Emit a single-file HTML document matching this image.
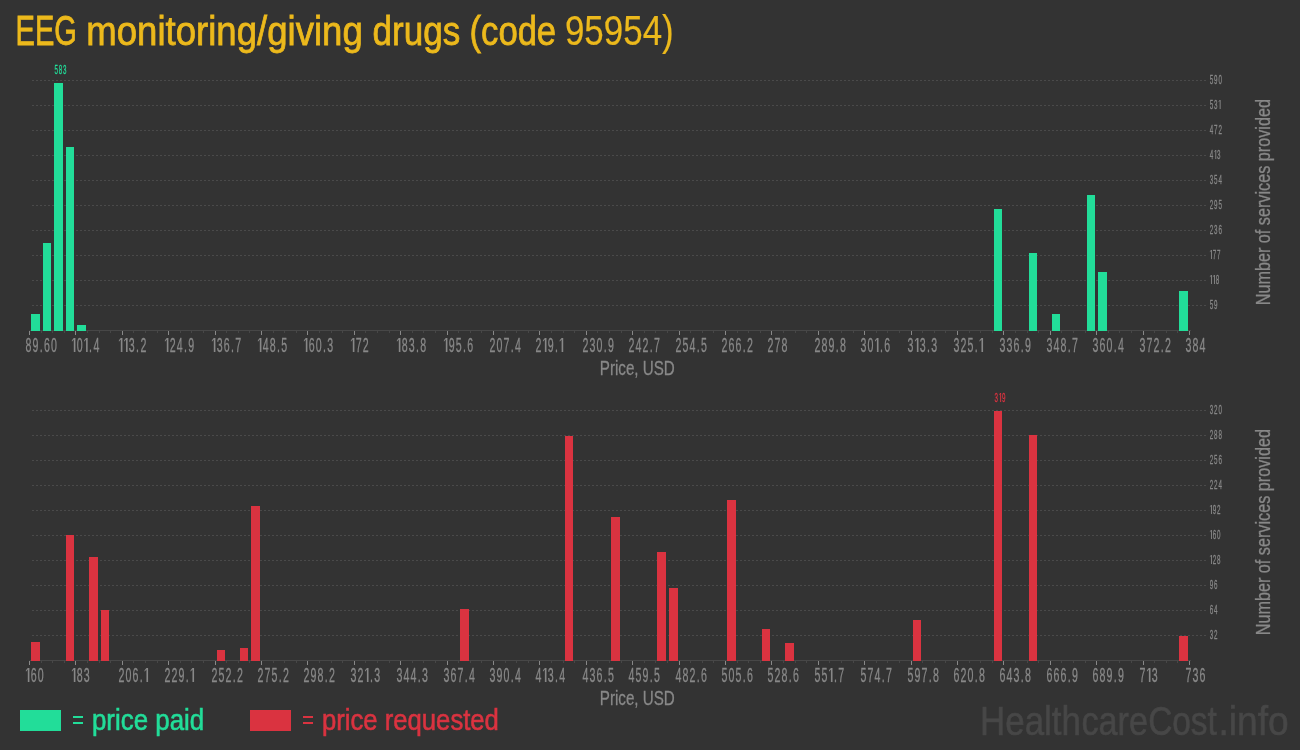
<!DOCTYPE html>
<html><head><meta charset="utf-8"><style>
html,body{margin:0;padding:0;background:#333333;}
body{width:1300px;height:750px;overflow:hidden;}
svg{display:block;will-change:transform;}
text{font-family:"Liberation Sans", sans-serif;}
</style></head><body>
<svg width="1300" height="750" viewBox="0 0 1300 750">
<rect width="1300" height="750" fill="#333333"/>
<text transform="translate(15.61 45) scale(0.6840 1)" font-size="42.5" fill="#ecb91c" stroke="#ecb91c" stroke-width="0.8">EEG</text>
<text transform="translate(86.23 45) scale(0.8924 1)" font-size="41" fill="#ecb91c" stroke="#ecb91c" stroke-width="0.8">monitoring/giving</text>
<text transform="translate(372.56 45) scale(0.8551 1)" font-size="41" fill="#ecb91c" stroke="#ecb91c" stroke-width="0.8">drugs</text>
<text transform="translate(469.55 45) scale(0.8342 1)" font-size="41.5" fill="#ecb91c" stroke="#ecb91c" stroke-width="0.8">(code</text>
<text transform="translate(564.93 45) scale(0.8320 1)" font-size="42" fill="#ecb91c" stroke="#ecb91c" stroke-width="0.2">95954)</text>
<text transform="translate(91.97 729.9) scale(0.8774 1)" font-size="29.5" fill="#22dd99" stroke="#22dd99" stroke-width="0.6">price paid</text>
<text transform="translate(321.98 729.9) scale(0.8705 1)" font-size="29.5" fill="#da3340" stroke="#da3340" stroke-width="0.6">price requested</text>
<text transform="translate(980.09 734.9) scale(0.8404 1)" font-size="41.5" fill="#474747" stroke="#474747" stroke-width="0.6">Health</text>
<text transform="translate(1081.51 734.9) scale(0.8241 1)" font-size="41.5" fill="#474747" stroke="#474747" stroke-width="0.6">care</text>
<text transform="translate(1148.14 734.9) scale(0.8058 1)" font-size="41.5" fill="#474747" stroke="#474747" stroke-width="0.6">Cost</text>
<text transform="translate(1218.52 734.9) scale(0.8948 1)" font-size="41.5" fill="#474747" stroke="#474747" stroke-width="0.6">.info</text>
<text transform="translate(599.78 374.9) scale(0.7671 1)" font-size="19.8" fill="#888888" stroke="#888888" stroke-width="0.3">Price, USD</text>
<text transform="translate(599.78 704.9) scale(0.7671 1)" font-size="19.8" fill="#888888" stroke="#888888" stroke-width="0.3">Price, USD</text>
<line x1="32" y1="80.5" x2="1206" y2="80.5" stroke="#4a4a4a" stroke-width="1" stroke-dasharray="2 2"/>
<line x1="32" y1="105.5" x2="1206" y2="105.5" stroke="#4a4a4a" stroke-width="1" stroke-dasharray="2 2"/>
<line x1="32" y1="130.5" x2="1206" y2="130.5" stroke="#4a4a4a" stroke-width="1" stroke-dasharray="2 2"/>
<line x1="32" y1="155.5" x2="1206" y2="155.5" stroke="#4a4a4a" stroke-width="1" stroke-dasharray="2 2"/>
<line x1="32" y1="180.5" x2="1206" y2="180.5" stroke="#4a4a4a" stroke-width="1" stroke-dasharray="2 2"/>
<line x1="32" y1="205.5" x2="1206" y2="205.5" stroke="#4a4a4a" stroke-width="1" stroke-dasharray="2 2"/>
<line x1="32" y1="230.5" x2="1206" y2="230.5" stroke="#4a4a4a" stroke-width="1" stroke-dasharray="2 2"/>
<line x1="32" y1="255.5" x2="1206" y2="255.5" stroke="#4a4a4a" stroke-width="1" stroke-dasharray="2 2"/>
<line x1="32" y1="280.5" x2="1206" y2="280.5" stroke="#4a4a4a" stroke-width="1" stroke-dasharray="2 2"/>
<line x1="32" y1="305.5" x2="1206" y2="305.5" stroke="#4a4a4a" stroke-width="1" stroke-dasharray="2 2"/>
<line x1="29.5" y1="330.5" x2="1191" y2="330.5" stroke="#474747" stroke-width="1"/>
<line x1="29.5" y1="331" x2="29.5" y2="335" stroke="#888888" stroke-width="1"/>
<line x1="41.5" y1="331" x2="41.5" y2="333" stroke="#474747" stroke-width="1"/>
<line x1="52.5" y1="331" x2="52.5" y2="333" stroke="#474747" stroke-width="1"/>
<line x1="64.5" y1="331" x2="64.5" y2="333" stroke="#474747" stroke-width="1"/>
<line x1="75.5" y1="331" x2="75.5" y2="335" stroke="#888888" stroke-width="1"/>
<line x1="87.5" y1="331" x2="87.5" y2="333" stroke="#474747" stroke-width="1"/>
<line x1="99.5" y1="331" x2="99.5" y2="333" stroke="#474747" stroke-width="1"/>
<line x1="110.5" y1="331" x2="110.5" y2="333" stroke="#474747" stroke-width="1"/>
<line x1="122.5" y1="331" x2="122.5" y2="335" stroke="#888888" stroke-width="1"/>
<line x1="133.5" y1="331" x2="133.5" y2="333" stroke="#474747" stroke-width="1"/>
<line x1="145.5" y1="331" x2="145.5" y2="333" stroke="#474747" stroke-width="1"/>
<line x1="157.5" y1="331" x2="157.5" y2="333" stroke="#474747" stroke-width="1"/>
<line x1="168.5" y1="331" x2="168.5" y2="335" stroke="#888888" stroke-width="1"/>
<line x1="180.5" y1="331" x2="180.5" y2="333" stroke="#474747" stroke-width="1"/>
<line x1="191.5" y1="331" x2="191.5" y2="333" stroke="#474747" stroke-width="1"/>
<line x1="203.5" y1="331" x2="203.5" y2="333" stroke="#474747" stroke-width="1"/>
<line x1="215.5" y1="331" x2="215.5" y2="335" stroke="#888888" stroke-width="1"/>
<line x1="226.5" y1="331" x2="226.5" y2="333" stroke="#474747" stroke-width="1"/>
<line x1="238.5" y1="331" x2="238.5" y2="333" stroke="#474747" stroke-width="1"/>
<line x1="249.5" y1="331" x2="249.5" y2="333" stroke="#474747" stroke-width="1"/>
<line x1="261.5" y1="331" x2="261.5" y2="335" stroke="#888888" stroke-width="1"/>
<line x1="273.5" y1="331" x2="273.5" y2="333" stroke="#474747" stroke-width="1"/>
<line x1="284.5" y1="331" x2="284.5" y2="333" stroke="#474747" stroke-width="1"/>
<line x1="296.5" y1="331" x2="296.5" y2="333" stroke="#474747" stroke-width="1"/>
<line x1="307.5" y1="331" x2="307.5" y2="335" stroke="#888888" stroke-width="1"/>
<line x1="319.5" y1="331" x2="319.5" y2="333" stroke="#474747" stroke-width="1"/>
<line x1="331.5" y1="331" x2="331.5" y2="333" stroke="#474747" stroke-width="1"/>
<line x1="342.5" y1="331" x2="342.5" y2="333" stroke="#474747" stroke-width="1"/>
<line x1="354.5" y1="331" x2="354.5" y2="335" stroke="#888888" stroke-width="1"/>
<line x1="365.5" y1="331" x2="365.5" y2="333" stroke="#474747" stroke-width="1"/>
<line x1="377.5" y1="331" x2="377.5" y2="333" stroke="#474747" stroke-width="1"/>
<line x1="389.5" y1="331" x2="389.5" y2="333" stroke="#474747" stroke-width="1"/>
<line x1="400.5" y1="331" x2="400.5" y2="335" stroke="#888888" stroke-width="1"/>
<line x1="412.5" y1="331" x2="412.5" y2="333" stroke="#474747" stroke-width="1"/>
<line x1="423.5" y1="331" x2="423.5" y2="333" stroke="#474747" stroke-width="1"/>
<line x1="435.5" y1="331" x2="435.5" y2="333" stroke="#474747" stroke-width="1"/>
<line x1="447.5" y1="331" x2="447.5" y2="335" stroke="#888888" stroke-width="1"/>
<line x1="458.5" y1="331" x2="458.5" y2="333" stroke="#474747" stroke-width="1"/>
<line x1="470.5" y1="331" x2="470.5" y2="333" stroke="#474747" stroke-width="1"/>
<line x1="481.5" y1="331" x2="481.5" y2="333" stroke="#474747" stroke-width="1"/>
<line x1="493.5" y1="331" x2="493.5" y2="335" stroke="#888888" stroke-width="1"/>
<line x1="505.5" y1="331" x2="505.5" y2="333" stroke="#474747" stroke-width="1"/>
<line x1="516.5" y1="331" x2="516.5" y2="333" stroke="#474747" stroke-width="1"/>
<line x1="528.5" y1="331" x2="528.5" y2="333" stroke="#474747" stroke-width="1"/>
<line x1="539.5" y1="331" x2="539.5" y2="335" stroke="#888888" stroke-width="1"/>
<line x1="551.5" y1="331" x2="551.5" y2="333" stroke="#474747" stroke-width="1"/>
<line x1="563.5" y1="331" x2="563.5" y2="333" stroke="#474747" stroke-width="1"/>
<line x1="574.5" y1="331" x2="574.5" y2="333" stroke="#474747" stroke-width="1"/>
<line x1="586.5" y1="331" x2="586.5" y2="335" stroke="#888888" stroke-width="1"/>
<line x1="597.5" y1="331" x2="597.5" y2="333" stroke="#474747" stroke-width="1"/>
<line x1="609.5" y1="331" x2="609.5" y2="333" stroke="#474747" stroke-width="1"/>
<line x1="621.5" y1="331" x2="621.5" y2="333" stroke="#474747" stroke-width="1"/>
<line x1="632.5" y1="331" x2="632.5" y2="335" stroke="#888888" stroke-width="1"/>
<line x1="644.5" y1="331" x2="644.5" y2="333" stroke="#474747" stroke-width="1"/>
<line x1="655.5" y1="331" x2="655.5" y2="333" stroke="#474747" stroke-width="1"/>
<line x1="667.5" y1="331" x2="667.5" y2="333" stroke="#474747" stroke-width="1"/>
<line x1="679.5" y1="331" x2="679.5" y2="335" stroke="#888888" stroke-width="1"/>
<line x1="690.5" y1="331" x2="690.5" y2="333" stroke="#474747" stroke-width="1"/>
<line x1="702.5" y1="331" x2="702.5" y2="333" stroke="#474747" stroke-width="1"/>
<line x1="713.5" y1="331" x2="713.5" y2="333" stroke="#474747" stroke-width="1"/>
<line x1="725.5" y1="331" x2="725.5" y2="335" stroke="#888888" stroke-width="1"/>
<line x1="737.5" y1="331" x2="737.5" y2="333" stroke="#474747" stroke-width="1"/>
<line x1="748.5" y1="331" x2="748.5" y2="333" stroke="#474747" stroke-width="1"/>
<line x1="760.5" y1="331" x2="760.5" y2="333" stroke="#474747" stroke-width="1"/>
<line x1="771.5" y1="331" x2="771.5" y2="335" stroke="#888888" stroke-width="1"/>
<line x1="783.5" y1="331" x2="783.5" y2="333" stroke="#474747" stroke-width="1"/>
<line x1="795.5" y1="331" x2="795.5" y2="333" stroke="#474747" stroke-width="1"/>
<line x1="806.5" y1="331" x2="806.5" y2="333" stroke="#474747" stroke-width="1"/>
<line x1="818.5" y1="331" x2="818.5" y2="335" stroke="#888888" stroke-width="1"/>
<line x1="829.5" y1="331" x2="829.5" y2="333" stroke="#474747" stroke-width="1"/>
<line x1="841.5" y1="331" x2="841.5" y2="333" stroke="#474747" stroke-width="1"/>
<line x1="853.5" y1="331" x2="853.5" y2="333" stroke="#474747" stroke-width="1"/>
<line x1="864.5" y1="331" x2="864.5" y2="335" stroke="#888888" stroke-width="1"/>
<line x1="876.5" y1="331" x2="876.5" y2="333" stroke="#474747" stroke-width="1"/>
<line x1="887.5" y1="331" x2="887.5" y2="333" stroke="#474747" stroke-width="1"/>
<line x1="899.5" y1="331" x2="899.5" y2="333" stroke="#474747" stroke-width="1"/>
<line x1="911.5" y1="331" x2="911.5" y2="335" stroke="#888888" stroke-width="1"/>
<line x1="922.5" y1="331" x2="922.5" y2="333" stroke="#474747" stroke-width="1"/>
<line x1="934.5" y1="331" x2="934.5" y2="333" stroke="#474747" stroke-width="1"/>
<line x1="945.5" y1="331" x2="945.5" y2="333" stroke="#474747" stroke-width="1"/>
<line x1="957.5" y1="331" x2="957.5" y2="335" stroke="#888888" stroke-width="1"/>
<line x1="969.5" y1="331" x2="969.5" y2="333" stroke="#474747" stroke-width="1"/>
<line x1="980.5" y1="331" x2="980.5" y2="333" stroke="#474747" stroke-width="1"/>
<line x1="992.5" y1="331" x2="992.5" y2="333" stroke="#474747" stroke-width="1"/>
<line x1="1003.5" y1="331" x2="1003.5" y2="335" stroke="#888888" stroke-width="1"/>
<line x1="1015.5" y1="331" x2="1015.5" y2="333" stroke="#474747" stroke-width="1"/>
<line x1="1027.5" y1="331" x2="1027.5" y2="333" stroke="#474747" stroke-width="1"/>
<line x1="1038.5" y1="331" x2="1038.5" y2="333" stroke="#474747" stroke-width="1"/>
<line x1="1050.5" y1="331" x2="1050.5" y2="335" stroke="#888888" stroke-width="1"/>
<line x1="1061.5" y1="331" x2="1061.5" y2="333" stroke="#474747" stroke-width="1"/>
<line x1="1073.5" y1="331" x2="1073.5" y2="333" stroke="#474747" stroke-width="1"/>
<line x1="1085.5" y1="331" x2="1085.5" y2="333" stroke="#474747" stroke-width="1"/>
<line x1="1096.5" y1="331" x2="1096.5" y2="335" stroke="#888888" stroke-width="1"/>
<line x1="1108.5" y1="331" x2="1108.5" y2="333" stroke="#474747" stroke-width="1"/>
<line x1="1119.5" y1="331" x2="1119.5" y2="333" stroke="#474747" stroke-width="1"/>
<line x1="1131.5" y1="331" x2="1131.5" y2="333" stroke="#474747" stroke-width="1"/>
<line x1="1143.5" y1="331" x2="1143.5" y2="335" stroke="#888888" stroke-width="1"/>
<line x1="1154.5" y1="331" x2="1154.5" y2="333" stroke="#474747" stroke-width="1"/>
<line x1="1166.5" y1="331" x2="1166.5" y2="333" stroke="#474747" stroke-width="1"/>
<line x1="1177.5" y1="331" x2="1177.5" y2="333" stroke="#474747" stroke-width="1"/>
<line x1="1189.5" y1="331" x2="1189.5" y2="335" stroke="#888888" stroke-width="1"/>
<rect x="31" y="313.90" width="9" height="17.10" fill="#22dd99" shape-rendering="crispEdges"/>
<rect x="43" y="243.14" width="8" height="87.86" fill="#22dd99" shape-rendering="crispEdges"/>
<rect x="54" y="82.97" width="9" height="248.03" fill="#22dd99" shape-rendering="crispEdges"/>
<rect x="66" y="146.95" width="8" height="184.05" fill="#22dd99" shape-rendering="crispEdges"/>
<rect x="77" y="324.92" width="9" height="6.08" fill="#22dd99" shape-rendering="crispEdges"/>
<rect x="994" y="208.81" width="8" height="122.19" fill="#22dd99" shape-rendering="crispEdges"/>
<rect x="1029" y="252.88" width="8" height="78.12" fill="#22dd99" shape-rendering="crispEdges"/>
<rect x="1052" y="313.90" width="8" height="17.10" fill="#22dd99" shape-rendering="crispEdges"/>
<rect x="1087" y="194.83" width="8" height="136.17" fill="#22dd99" shape-rendering="crispEdges"/>
<rect x="1098" y="271.95" width="9" height="59.05" fill="#22dd99" shape-rendering="crispEdges"/>
<rect x="1179" y="291.02" width="9" height="39.98" fill="#22dd99" shape-rendering="crispEdges"/>
<text transform="translate(0 352) scale(0.545 1)" x="46.73 59.67 72.98 80.86 93.80" font-size="19.5" fill="#888888" stroke="#888888" stroke-width="0.3">89.60</text>
<text transform="translate(0 352) scale(0.545 1)" x="140.68 163.53 171.41" font-size="19.5" fill="#888888" stroke="#888888" stroke-width="0.3">0.4</text><path d="M73.81 338.00H75.42V352.00H73.81V339.54L71.89 341.64V340.31ZM86.06 338.00H87.67V352.00H86.06V339.54L84.14 341.64V340.31Z" fill="#888888"/>
<text transform="translate(0 352) scale(0.545 1)" x="236.46 249.77 257.65" font-size="19.5" fill="#888888" stroke="#888888" stroke-width="0.3">3.2</text><path d="M120.81 338.00H122.42V352.00H120.81V339.54L118.89 341.64V340.31ZM126.01 338.00H127.62V352.00H126.01V339.54L124.09 341.64V340.31Z" fill="#888888"/>
<text transform="translate(0 352) scale(0.545 1)" x="311.32 324.26 337.57 345.45" font-size="19.5" fill="#888888" stroke="#888888" stroke-width="0.3">24.9</text><path d="M166.81 338.00H168.42V352.00H166.81V339.54L164.89 341.64V340.31Z" fill="#888888"/>
<text transform="translate(0 352) scale(0.545 1)" x="397.56 410.49 423.80 431.69" font-size="19.5" fill="#888888" stroke="#888888" stroke-width="0.3">36.7</text><path d="M213.81 338.00H215.42V352.00H213.81V339.54L211.89 341.64V340.31Z" fill="#888888"/>
<text transform="translate(0 352) scale(0.545 1)" x="481.96 494.90 508.21 516.09" font-size="19.5" fill="#888888" stroke="#888888" stroke-width="0.3">48.5</text><path d="M259.81 338.00H261.42V352.00H259.81V339.54L257.89 341.64V340.31Z" fill="#888888"/>
<text transform="translate(0 352) scale(0.545 1)" x="566.37 579.30 592.61 600.49" font-size="19.5" fill="#888888" stroke="#888888" stroke-width="0.3">60.3</text><path d="M305.81 338.00H307.42V352.00H305.81V339.54L303.89 341.64V340.31Z" fill="#888888"/>
<text transform="translate(0 352) scale(0.545 1)" x="652.61 665.54" font-size="19.5" fill="#888888" stroke="#888888" stroke-width="0.3">72</text><path d="M352.81 338.00H354.42V352.00H352.81V339.54L350.89 341.64V340.31Z" fill="#888888"/>
<text transform="translate(0 352) scale(0.545 1)" x="737.01 749.94 763.25 771.14" font-size="19.5" fill="#888888" stroke="#888888" stroke-width="0.3">83.8</text><path d="M398.81 338.00H400.42V352.00H398.81V339.54L396.89 341.64V340.31Z" fill="#888888"/>
<text transform="translate(0 352) scale(0.545 1)" x="823.25 836.18 849.49 857.38" font-size="19.5" fill="#888888" stroke="#888888" stroke-width="0.3">95.6</text><path d="M445.81 338.00H447.42V352.00H445.81V339.54L443.89 341.64V340.31Z" fill="#888888"/>
<text transform="translate(0 352) scale(0.545 1)" x="898.11 911.05 923.98 937.29 945.17" font-size="19.5" fill="#888888" stroke="#888888" stroke-width="0.3">207.4</text>
<text transform="translate(0 352) scale(0.545 1)" x="982.51 1004.99 1018.30" font-size="19.5" fill="#888888" stroke="#888888" stroke-width="0.3">29.</text><path d="M544.86 338.00H546.47V352.00H544.86V339.54L542.94 341.64V340.31ZM561.61 338.00H563.22V352.00H561.61V339.54L559.69 341.64V340.31Z" fill="#888888"/>
<text transform="translate(0 352) scale(0.545 1)" x="1068.75 1081.69 1094.62 1107.93 1115.82" font-size="19.5" fill="#888888" stroke="#888888" stroke-width="0.3">230.9</text>
<text transform="translate(0 352) scale(0.545 1)" x="1153.16 1166.09 1179.03 1192.34 1200.22" font-size="19.5" fill="#888888" stroke="#888888" stroke-width="0.3">242.7</text>
<text transform="translate(0 352) scale(0.545 1)" x="1239.39 1252.33 1265.27 1278.58 1286.46" font-size="19.5" fill="#888888" stroke="#888888" stroke-width="0.3">254.5</text>
<text transform="translate(0 352) scale(0.545 1)" x="1323.80 1336.73 1349.67 1362.98 1370.86" font-size="19.5" fill="#888888" stroke="#888888" stroke-width="0.3">266.2</text>
<text transform="translate(0 352) scale(0.545 1)" x="1408.20 1421.14 1434.07" font-size="19.5" fill="#888888" stroke="#888888" stroke-width="0.3">278</text>
<text transform="translate(0 352) scale(0.545 1)" x="1494.44 1507.38 1520.31 1533.62 1541.50" font-size="19.5" fill="#888888" stroke="#888888" stroke-width="0.3">289.8</text>
<text transform="translate(0 352) scale(0.545 1)" x="1578.84 1591.78 1614.63 1622.51" font-size="19.5" fill="#888888" stroke="#888888" stroke-width="0.3">30.6</text><path d="M876.91 338.00H878.52V352.00H876.91V339.54L874.99 341.64V340.31Z" fill="#888888"/>
<text transform="translate(0 352) scale(0.545 1)" x="1665.08 1687.56 1700.87 1708.75" font-size="19.5" fill="#888888" stroke="#888888" stroke-width="0.3">33.3</text><path d="M916.86 338.00H918.47V352.00H916.86V339.54L914.94 341.64V340.31Z" fill="#888888"/>
<text transform="translate(0 352) scale(0.545 1)" x="1749.49 1762.42 1775.36 1788.67" font-size="19.5" fill="#888888" stroke="#888888" stroke-width="0.3">325.</text><path d="M981.46 338.00H983.07V352.00H981.46V339.54L979.54 341.64V340.31Z" fill="#888888"/>
<text transform="translate(0 352) scale(0.545 1)" x="1833.89 1846.83 1859.76 1873.07 1880.95" font-size="19.5" fill="#888888" stroke="#888888" stroke-width="0.3">336.9</text>
<text transform="translate(0 352) scale(0.545 1)" x="1920.13 1933.06 1946.00 1959.31 1967.19" font-size="19.5" fill="#888888" stroke="#888888" stroke-width="0.3">348.7</text>
<text transform="translate(0 352) scale(0.545 1)" x="2004.53 2017.47 2030.40 2043.71 2051.60" font-size="19.5" fill="#888888" stroke="#888888" stroke-width="0.3">360.4</text>
<text transform="translate(0 352) scale(0.545 1)" x="2090.77 2103.71 2116.64 2129.95 2137.83" font-size="19.5" fill="#888888" stroke="#888888" stroke-width="0.3">372.2</text>
<text transform="translate(0 352) scale(0.545 1)" x="2175.17 2188.11 2201.05" font-size="19.5" fill="#888888" stroke="#888888" stroke-width="0.3">384</text>
<text transform="translate(0 84) scale(0.5 1)" x="2419.47 2428.17 2436.87" font-size="12.5" fill="#888888" stroke="#888888" stroke-width="0.3">590</text>
<text transform="translate(0 109) scale(0.5 1)" x="2419.47 2428.17" font-size="12.5" fill="#888888" stroke="#888888" stroke-width="0.3">53</text><path d="M1219.68 100.00H1220.61V109.00H1219.68V100.99L1218.57 102.34V101.48Z" fill="#888888"/>
<text transform="translate(0 134) scale(0.5 1)" x="2419.47 2428.17 2436.87" font-size="12.5" fill="#888888" stroke="#888888" stroke-width="0.3">472</text>
<text transform="translate(0 159) scale(0.5 1)" x="2419.47 2434.17" font-size="12.5" fill="#888888" stroke="#888888" stroke-width="0.3">43</text><path d="M1215.33 150.00H1216.26V159.00H1215.33V150.99L1214.22 152.34V151.49Z" fill="#888888"/>
<text transform="translate(0 184) scale(0.5 1)" x="2419.47 2428.17 2436.87" font-size="12.5" fill="#888888" stroke="#888888" stroke-width="0.3">354</text>
<text transform="translate(0 209) scale(0.5 1)" x="2419.47 2428.17 2436.87" font-size="12.5" fill="#888888" stroke="#888888" stroke-width="0.3">295</text>
<text transform="translate(0 234) scale(0.5 1)" x="2419.47 2428.17 2436.87" font-size="12.5" fill="#888888" stroke="#888888" stroke-width="0.3">236</text>
<text transform="translate(0 259) scale(0.5 1)" x="2425.47 2434.17" font-size="12.5" fill="#888888" stroke="#888888" stroke-width="0.3">77</text><path d="M1210.98 250.00H1211.91V259.00H1210.98V250.99L1209.87 252.34V251.49Z" fill="#888888"/>
<text transform="translate(0 284) scale(0.5 1)" x="2431.47" font-size="12.5" fill="#888888" stroke="#888888" stroke-width="0.3">8</text><path d="M1210.98 275.00H1211.91V284.00H1210.98V275.99L1209.87 277.34V276.49ZM1213.98 275.00H1214.91V284.00H1213.98V275.99L1212.87 277.34V276.49Z" fill="#888888"/>
<text transform="translate(0 309) scale(0.5 1)" x="2419.47 2428.17" font-size="12.5" fill="#888888" stroke="#888888" stroke-width="0.3">59</text>
<text transform="translate(0 74) scale(0.5 1)" x="108.82 117.52 126.22" font-size="12.5" fill="#22dd99" stroke="#22dd99" stroke-width="0.3">583</text>
<line x1="32" y1="410.5" x2="1206" y2="410.5" stroke="#4a4a4a" stroke-width="1" stroke-dasharray="2 2"/>
<line x1="32" y1="435.5" x2="1206" y2="435.5" stroke="#4a4a4a" stroke-width="1" stroke-dasharray="2 2"/>
<line x1="32" y1="460.5" x2="1206" y2="460.5" stroke="#4a4a4a" stroke-width="1" stroke-dasharray="2 2"/>
<line x1="32" y1="485.5" x2="1206" y2="485.5" stroke="#4a4a4a" stroke-width="1" stroke-dasharray="2 2"/>
<line x1="32" y1="510.5" x2="1206" y2="510.5" stroke="#4a4a4a" stroke-width="1" stroke-dasharray="2 2"/>
<line x1="32" y1="535.5" x2="1206" y2="535.5" stroke="#4a4a4a" stroke-width="1" stroke-dasharray="2 2"/>
<line x1="32" y1="560.5" x2="1206" y2="560.5" stroke="#4a4a4a" stroke-width="1" stroke-dasharray="2 2"/>
<line x1="32" y1="585.5" x2="1206" y2="585.5" stroke="#4a4a4a" stroke-width="1" stroke-dasharray="2 2"/>
<line x1="32" y1="610.5" x2="1206" y2="610.5" stroke="#4a4a4a" stroke-width="1" stroke-dasharray="2 2"/>
<line x1="32" y1="635.5" x2="1206" y2="635.5" stroke="#4a4a4a" stroke-width="1" stroke-dasharray="2 2"/>
<line x1="29.5" y1="660.5" x2="1191" y2="660.5" stroke="#474747" stroke-width="1"/>
<line x1="29.5" y1="661" x2="29.5" y2="665" stroke="#888888" stroke-width="1"/>
<line x1="41.5" y1="661" x2="41.5" y2="663" stroke="#474747" stroke-width="1"/>
<line x1="52.5" y1="661" x2="52.5" y2="663" stroke="#474747" stroke-width="1"/>
<line x1="64.5" y1="661" x2="64.5" y2="663" stroke="#474747" stroke-width="1"/>
<line x1="75.5" y1="661" x2="75.5" y2="665" stroke="#888888" stroke-width="1"/>
<line x1="87.5" y1="661" x2="87.5" y2="663" stroke="#474747" stroke-width="1"/>
<line x1="99.5" y1="661" x2="99.5" y2="663" stroke="#474747" stroke-width="1"/>
<line x1="110.5" y1="661" x2="110.5" y2="663" stroke="#474747" stroke-width="1"/>
<line x1="122.5" y1="661" x2="122.5" y2="665" stroke="#888888" stroke-width="1"/>
<line x1="133.5" y1="661" x2="133.5" y2="663" stroke="#474747" stroke-width="1"/>
<line x1="145.5" y1="661" x2="145.5" y2="663" stroke="#474747" stroke-width="1"/>
<line x1="157.5" y1="661" x2="157.5" y2="663" stroke="#474747" stroke-width="1"/>
<line x1="168.5" y1="661" x2="168.5" y2="665" stroke="#888888" stroke-width="1"/>
<line x1="180.5" y1="661" x2="180.5" y2="663" stroke="#474747" stroke-width="1"/>
<line x1="191.5" y1="661" x2="191.5" y2="663" stroke="#474747" stroke-width="1"/>
<line x1="203.5" y1="661" x2="203.5" y2="663" stroke="#474747" stroke-width="1"/>
<line x1="215.5" y1="661" x2="215.5" y2="665" stroke="#888888" stroke-width="1"/>
<line x1="226.5" y1="661" x2="226.5" y2="663" stroke="#474747" stroke-width="1"/>
<line x1="238.5" y1="661" x2="238.5" y2="663" stroke="#474747" stroke-width="1"/>
<line x1="249.5" y1="661" x2="249.5" y2="663" stroke="#474747" stroke-width="1"/>
<line x1="261.5" y1="661" x2="261.5" y2="665" stroke="#888888" stroke-width="1"/>
<line x1="273.5" y1="661" x2="273.5" y2="663" stroke="#474747" stroke-width="1"/>
<line x1="284.5" y1="661" x2="284.5" y2="663" stroke="#474747" stroke-width="1"/>
<line x1="296.5" y1="661" x2="296.5" y2="663" stroke="#474747" stroke-width="1"/>
<line x1="307.5" y1="661" x2="307.5" y2="665" stroke="#888888" stroke-width="1"/>
<line x1="319.5" y1="661" x2="319.5" y2="663" stroke="#474747" stroke-width="1"/>
<line x1="331.5" y1="661" x2="331.5" y2="663" stroke="#474747" stroke-width="1"/>
<line x1="342.5" y1="661" x2="342.5" y2="663" stroke="#474747" stroke-width="1"/>
<line x1="354.5" y1="661" x2="354.5" y2="665" stroke="#888888" stroke-width="1"/>
<line x1="365.5" y1="661" x2="365.5" y2="663" stroke="#474747" stroke-width="1"/>
<line x1="377.5" y1="661" x2="377.5" y2="663" stroke="#474747" stroke-width="1"/>
<line x1="389.5" y1="661" x2="389.5" y2="663" stroke="#474747" stroke-width="1"/>
<line x1="400.5" y1="661" x2="400.5" y2="665" stroke="#888888" stroke-width="1"/>
<line x1="412.5" y1="661" x2="412.5" y2="663" stroke="#474747" stroke-width="1"/>
<line x1="423.5" y1="661" x2="423.5" y2="663" stroke="#474747" stroke-width="1"/>
<line x1="435.5" y1="661" x2="435.5" y2="663" stroke="#474747" stroke-width="1"/>
<line x1="447.5" y1="661" x2="447.5" y2="665" stroke="#888888" stroke-width="1"/>
<line x1="458.5" y1="661" x2="458.5" y2="663" stroke="#474747" stroke-width="1"/>
<line x1="470.5" y1="661" x2="470.5" y2="663" stroke="#474747" stroke-width="1"/>
<line x1="481.5" y1="661" x2="481.5" y2="663" stroke="#474747" stroke-width="1"/>
<line x1="493.5" y1="661" x2="493.5" y2="665" stroke="#888888" stroke-width="1"/>
<line x1="505.5" y1="661" x2="505.5" y2="663" stroke="#474747" stroke-width="1"/>
<line x1="516.5" y1="661" x2="516.5" y2="663" stroke="#474747" stroke-width="1"/>
<line x1="528.5" y1="661" x2="528.5" y2="663" stroke="#474747" stroke-width="1"/>
<line x1="539.5" y1="661" x2="539.5" y2="665" stroke="#888888" stroke-width="1"/>
<line x1="551.5" y1="661" x2="551.5" y2="663" stroke="#474747" stroke-width="1"/>
<line x1="563.5" y1="661" x2="563.5" y2="663" stroke="#474747" stroke-width="1"/>
<line x1="574.5" y1="661" x2="574.5" y2="663" stroke="#474747" stroke-width="1"/>
<line x1="586.5" y1="661" x2="586.5" y2="665" stroke="#888888" stroke-width="1"/>
<line x1="597.5" y1="661" x2="597.5" y2="663" stroke="#474747" stroke-width="1"/>
<line x1="609.5" y1="661" x2="609.5" y2="663" stroke="#474747" stroke-width="1"/>
<line x1="621.5" y1="661" x2="621.5" y2="663" stroke="#474747" stroke-width="1"/>
<line x1="632.5" y1="661" x2="632.5" y2="665" stroke="#888888" stroke-width="1"/>
<line x1="644.5" y1="661" x2="644.5" y2="663" stroke="#474747" stroke-width="1"/>
<line x1="655.5" y1="661" x2="655.5" y2="663" stroke="#474747" stroke-width="1"/>
<line x1="667.5" y1="661" x2="667.5" y2="663" stroke="#474747" stroke-width="1"/>
<line x1="679.5" y1="661" x2="679.5" y2="665" stroke="#888888" stroke-width="1"/>
<line x1="690.5" y1="661" x2="690.5" y2="663" stroke="#474747" stroke-width="1"/>
<line x1="702.5" y1="661" x2="702.5" y2="663" stroke="#474747" stroke-width="1"/>
<line x1="713.5" y1="661" x2="713.5" y2="663" stroke="#474747" stroke-width="1"/>
<line x1="725.5" y1="661" x2="725.5" y2="665" stroke="#888888" stroke-width="1"/>
<line x1="737.5" y1="661" x2="737.5" y2="663" stroke="#474747" stroke-width="1"/>
<line x1="748.5" y1="661" x2="748.5" y2="663" stroke="#474747" stroke-width="1"/>
<line x1="760.5" y1="661" x2="760.5" y2="663" stroke="#474747" stroke-width="1"/>
<line x1="771.5" y1="661" x2="771.5" y2="665" stroke="#888888" stroke-width="1"/>
<line x1="783.5" y1="661" x2="783.5" y2="663" stroke="#474747" stroke-width="1"/>
<line x1="795.5" y1="661" x2="795.5" y2="663" stroke="#474747" stroke-width="1"/>
<line x1="806.5" y1="661" x2="806.5" y2="663" stroke="#474747" stroke-width="1"/>
<line x1="818.5" y1="661" x2="818.5" y2="665" stroke="#888888" stroke-width="1"/>
<line x1="829.5" y1="661" x2="829.5" y2="663" stroke="#474747" stroke-width="1"/>
<line x1="841.5" y1="661" x2="841.5" y2="663" stroke="#474747" stroke-width="1"/>
<line x1="853.5" y1="661" x2="853.5" y2="663" stroke="#474747" stroke-width="1"/>
<line x1="864.5" y1="661" x2="864.5" y2="665" stroke="#888888" stroke-width="1"/>
<line x1="876.5" y1="661" x2="876.5" y2="663" stroke="#474747" stroke-width="1"/>
<line x1="887.5" y1="661" x2="887.5" y2="663" stroke="#474747" stroke-width="1"/>
<line x1="899.5" y1="661" x2="899.5" y2="663" stroke="#474747" stroke-width="1"/>
<line x1="911.5" y1="661" x2="911.5" y2="665" stroke="#888888" stroke-width="1"/>
<line x1="922.5" y1="661" x2="922.5" y2="663" stroke="#474747" stroke-width="1"/>
<line x1="934.5" y1="661" x2="934.5" y2="663" stroke="#474747" stroke-width="1"/>
<line x1="945.5" y1="661" x2="945.5" y2="663" stroke="#474747" stroke-width="1"/>
<line x1="957.5" y1="661" x2="957.5" y2="665" stroke="#888888" stroke-width="1"/>
<line x1="969.5" y1="661" x2="969.5" y2="663" stroke="#474747" stroke-width="1"/>
<line x1="980.5" y1="661" x2="980.5" y2="663" stroke="#474747" stroke-width="1"/>
<line x1="992.5" y1="661" x2="992.5" y2="663" stroke="#474747" stroke-width="1"/>
<line x1="1003.5" y1="661" x2="1003.5" y2="665" stroke="#888888" stroke-width="1"/>
<line x1="1015.5" y1="661" x2="1015.5" y2="663" stroke="#474747" stroke-width="1"/>
<line x1="1027.5" y1="661" x2="1027.5" y2="663" stroke="#474747" stroke-width="1"/>
<line x1="1038.5" y1="661" x2="1038.5" y2="663" stroke="#474747" stroke-width="1"/>
<line x1="1050.5" y1="661" x2="1050.5" y2="665" stroke="#888888" stroke-width="1"/>
<line x1="1061.5" y1="661" x2="1061.5" y2="663" stroke="#474747" stroke-width="1"/>
<line x1="1073.5" y1="661" x2="1073.5" y2="663" stroke="#474747" stroke-width="1"/>
<line x1="1085.5" y1="661" x2="1085.5" y2="663" stroke="#474747" stroke-width="1"/>
<line x1="1096.5" y1="661" x2="1096.5" y2="665" stroke="#888888" stroke-width="1"/>
<line x1="1108.5" y1="661" x2="1108.5" y2="663" stroke="#474747" stroke-width="1"/>
<line x1="1119.5" y1="661" x2="1119.5" y2="663" stroke="#474747" stroke-width="1"/>
<line x1="1131.5" y1="661" x2="1131.5" y2="663" stroke="#474747" stroke-width="1"/>
<line x1="1143.5" y1="661" x2="1143.5" y2="665" stroke="#888888" stroke-width="1"/>
<line x1="1154.5" y1="661" x2="1154.5" y2="663" stroke="#474747" stroke-width="1"/>
<line x1="1166.5" y1="661" x2="1166.5" y2="663" stroke="#474747" stroke-width="1"/>
<line x1="1177.5" y1="661" x2="1177.5" y2="663" stroke="#474747" stroke-width="1"/>
<line x1="1189.5" y1="661" x2="1189.5" y2="665" stroke="#888888" stroke-width="1"/>
<rect x="31" y="642.03" width="9" height="18.97" fill="#da3340" shape-rendering="crispEdges"/>
<rect x="66" y="535.00" width="8" height="126.00" fill="#da3340" shape-rendering="crispEdges"/>
<rect x="89" y="556.88" width="9" height="104.12" fill="#da3340" shape-rendering="crispEdges"/>
<rect x="101" y="610.00" width="8" height="51.00" fill="#da3340" shape-rendering="crispEdges"/>
<rect x="217" y="649.84" width="8" height="11.16" fill="#da3340" shape-rendering="crispEdges"/>
<rect x="240" y="648.28" width="8" height="12.72" fill="#da3340" shape-rendering="crispEdges"/>
<rect x="251" y="506.09" width="9" height="154.91" fill="#da3340" shape-rendering="crispEdges"/>
<rect x="460" y="609.22" width="9" height="51.78" fill="#da3340" shape-rendering="crispEdges"/>
<rect x="565" y="435.78" width="8" height="225.22" fill="#da3340" shape-rendering="crispEdges"/>
<rect x="611" y="517.03" width="9" height="143.97" fill="#da3340" shape-rendering="crispEdges"/>
<rect x="657" y="552.19" width="9" height="108.81" fill="#da3340" shape-rendering="crispEdges"/>
<rect x="669" y="588.12" width="9" height="72.88" fill="#da3340" shape-rendering="crispEdges"/>
<rect x="727" y="499.84" width="9" height="161.16" fill="#da3340" shape-rendering="crispEdges"/>
<rect x="762" y="628.75" width="8" height="32.25" fill="#da3340" shape-rendering="crispEdges"/>
<rect x="785" y="642.81" width="9" height="18.19" fill="#da3340" shape-rendering="crispEdges"/>
<rect x="913" y="620.16" width="8" height="40.84" fill="#da3340" shape-rendering="crispEdges"/>
<rect x="994" y="410.78" width="8" height="250.22" fill="#da3340" shape-rendering="crispEdges"/>
<rect x="1029" y="435.00" width="8" height="226.00" fill="#da3340" shape-rendering="crispEdges"/>
<rect x="1179" y="635.78" width="9" height="25.22" fill="#da3340" shape-rendering="crispEdges"/>
<text transform="translate(0 682) scale(0.545 1)" x="56.27 69.21" font-size="19.5" fill="#888888" stroke="#888888" stroke-width="0.3">60</text><path d="M27.81 668.00H29.42V682.00H27.81V669.54L25.89 671.64V670.31Z" fill="#888888"/>
<text transform="translate(0 682) scale(0.545 1)" x="140.68 153.61" font-size="19.5" fill="#888888" stroke="#888888" stroke-width="0.3">83</text><path d="M73.81 668.00H75.42V682.00H73.81V669.54L71.89 671.64V670.31Z" fill="#888888"/>
<text transform="translate(0 682) scale(0.545 1)" x="217.38 230.31 243.25 256.56" font-size="19.5" fill="#888888" stroke="#888888" stroke-width="0.3">206.</text><path d="M146.46 668.00H148.07V682.00H146.46V669.54L144.54 671.64V670.31Z" fill="#888888"/>
<text transform="translate(0 682) scale(0.545 1)" x="301.78 314.72 327.65 340.96" font-size="19.5" fill="#888888" stroke="#888888" stroke-width="0.3">229.</text><path d="M192.46 668.00H194.07V682.00H192.46V669.54L190.54 671.64V670.31Z" fill="#888888"/>
<text transform="translate(0 682) scale(0.545 1)" x="388.02 400.95 413.89 427.20 435.08" font-size="19.5" fill="#888888" stroke="#888888" stroke-width="0.3">252.2</text>
<text transform="translate(0 682) scale(0.545 1)" x="472.42 485.36 498.29 511.60 519.49" font-size="19.5" fill="#888888" stroke="#888888" stroke-width="0.3">275.2</text>
<text transform="translate(0 682) scale(0.545 1)" x="556.83 569.76 582.70 596.01 603.89" font-size="19.5" fill="#888888" stroke="#888888" stroke-width="0.3">298.2</text>
<text transform="translate(0 682) scale(0.545 1)" x="643.06 656.00 678.85 686.73" font-size="19.5" fill="#888888" stroke="#888888" stroke-width="0.3">32.3</text><path d="M366.91 668.00H368.52V682.00H366.91V669.54L364.99 671.64V670.31Z" fill="#888888"/>
<text transform="translate(0 682) scale(0.545 1)" x="727.47 740.40 753.34 766.65 774.53" font-size="19.5" fill="#888888" stroke="#888888" stroke-width="0.3">344.3</text>
<text transform="translate(0 682) scale(0.545 1)" x="813.71 826.64 839.58 852.89 860.77" font-size="19.5" fill="#888888" stroke="#888888" stroke-width="0.3">367.4</text>
<text transform="translate(0 682) scale(0.545 1)" x="898.11 911.05 923.98 937.29 945.17" font-size="19.5" fill="#888888" stroke="#888888" stroke-width="0.3">390.4</text>
<text transform="translate(0 682) scale(0.545 1)" x="982.51 1004.99 1018.30 1026.18" font-size="19.5" fill="#888888" stroke="#888888" stroke-width="0.3">43.4</text><path d="M544.86 668.00H546.47V682.00H544.86V669.54L542.94 671.64V670.31Z" fill="#888888"/>
<text transform="translate(0 682) scale(0.545 1)" x="1068.75 1081.69 1094.62 1107.93 1115.82" font-size="19.5" fill="#888888" stroke="#888888" stroke-width="0.3">436.5</text>
<text transform="translate(0 682) scale(0.545 1)" x="1153.16 1166.09 1179.03 1192.34 1200.22" font-size="19.5" fill="#888888" stroke="#888888" stroke-width="0.3">459.5</text>
<text transform="translate(0 682) scale(0.545 1)" x="1239.39 1252.33 1265.27 1278.58 1286.46" font-size="19.5" fill="#888888" stroke="#888888" stroke-width="0.3">482.6</text>
<text transform="translate(0 682) scale(0.545 1)" x="1323.80 1336.73 1349.67 1362.98 1370.86" font-size="19.5" fill="#888888" stroke="#888888" stroke-width="0.3">505.6</text>
<text transform="translate(0 682) scale(0.545 1)" x="1408.20 1421.14 1434.07 1447.38 1455.27" font-size="19.5" fill="#888888" stroke="#888888" stroke-width="0.3">528.6</text>
<text transform="translate(0 682) scale(0.545 1)" x="1494.44 1507.38 1530.23 1538.11" font-size="19.5" fill="#888888" stroke="#888888" stroke-width="0.3">55.7</text><path d="M830.91 668.00H832.52V682.00H830.91V669.54L828.99 671.64V670.31Z" fill="#888888"/>
<text transform="translate(0 682) scale(0.545 1)" x="1578.84 1591.78 1604.72 1618.03 1625.91" font-size="19.5" fill="#888888" stroke="#888888" stroke-width="0.3">574.7</text>
<text transform="translate(0 682) scale(0.545 1)" x="1665.08 1678.02 1690.95 1704.26 1712.15" font-size="19.5" fill="#888888" stroke="#888888" stroke-width="0.3">597.8</text>
<text transform="translate(0 682) scale(0.545 1)" x="1749.49 1762.42 1775.36 1788.67 1796.55" font-size="19.5" fill="#888888" stroke="#888888" stroke-width="0.3">620.8</text>
<text transform="translate(0 682) scale(0.545 1)" x="1833.89 1846.83 1859.76 1873.07 1880.95" font-size="19.5" fill="#888888" stroke="#888888" stroke-width="0.3">643.8</text>
<text transform="translate(0 682) scale(0.545 1)" x="1920.13 1933.06 1946.00 1959.31 1967.19" font-size="19.5" fill="#888888" stroke="#888888" stroke-width="0.3">666.9</text>
<text transform="translate(0 682) scale(0.545 1)" x="2004.53 2017.47 2030.40 2043.71 2051.60" font-size="19.5" fill="#888888" stroke="#888888" stroke-width="0.3">689.9</text>
<text transform="translate(0 682) scale(0.545 1)" x="2090.77 2113.25" font-size="19.5" fill="#888888" stroke="#888888" stroke-width="0.3">73</text><path d="M1148.86 668.00H1150.47V682.00H1148.86V669.54L1146.94 671.64V670.31Z" fill="#888888"/>
<text transform="translate(0 682) scale(0.545 1)" x="2175.17 2188.11 2201.05" font-size="19.5" fill="#888888" stroke="#888888" stroke-width="0.3">736</text>
<text transform="translate(0 414) scale(0.5 1)" x="2419.47 2428.17 2436.87" font-size="12.5" fill="#888888" stroke="#888888" stroke-width="0.3">320</text>
<text transform="translate(0 439) scale(0.5 1)" x="2419.47 2428.17 2436.87" font-size="12.5" fill="#888888" stroke="#888888" stroke-width="0.3">288</text>
<text transform="translate(0 464) scale(0.5 1)" x="2419.47 2428.17 2436.87" font-size="12.5" fill="#888888" stroke="#888888" stroke-width="0.3">256</text>
<text transform="translate(0 489) scale(0.5 1)" x="2419.47 2428.17 2436.87" font-size="12.5" fill="#888888" stroke="#888888" stroke-width="0.3">224</text>
<text transform="translate(0 514) scale(0.5 1)" x="2425.47 2434.17" font-size="12.5" fill="#888888" stroke="#888888" stroke-width="0.3">92</text><path d="M1210.98 505.00H1211.91V514.00H1210.98V505.99L1209.87 507.34V506.49Z" fill="#888888"/>
<text transform="translate(0 539) scale(0.5 1)" x="2425.47 2434.17" font-size="12.5" fill="#888888" stroke="#888888" stroke-width="0.3">60</text><path d="M1210.98 530.00H1211.91V539.00H1210.98V530.99L1209.87 532.34V531.49Z" fill="#888888"/>
<text transform="translate(0 564) scale(0.5 1)" x="2425.47 2434.17" font-size="12.5" fill="#888888" stroke="#888888" stroke-width="0.3">28</text><path d="M1210.98 555.00H1211.91V564.00H1210.98V555.99L1209.87 557.34V556.49Z" fill="#888888"/>
<text transform="translate(0 589) scale(0.5 1)" x="2419.47 2428.17" font-size="12.5" fill="#888888" stroke="#888888" stroke-width="0.3">96</text>
<text transform="translate(0 614) scale(0.5 1)" x="2419.47 2428.17" font-size="12.5" fill="#888888" stroke="#888888" stroke-width="0.3">64</text>
<text transform="translate(0 639) scale(0.5 1)" x="2419.47 2428.17" font-size="12.5" fill="#888888" stroke="#888888" stroke-width="0.3">32</text>
<text transform="translate(0 402) scale(0.5 1)" x="1989.17 2003.87" font-size="12.5" fill="#da3340" stroke="#da3340" stroke-width="0.3">39</text><path d="M1000.18 393.00H1001.11V402.00H1000.18V393.99L999.07 395.34V394.49Z" fill="#da3340"/>
<text transform="translate(1270 305.29) rotate(-90) scale(0.8192 1)" font-size="19.8" fill="#888888" stroke="#888888" stroke-width="0.3">Number of services provided</text>
<text transform="translate(1270 635.29) rotate(-90) scale(0.8192 1)" font-size="19.8" fill="#888888" stroke="#888888" stroke-width="0.3">Number of services provided</text>
<rect x="20" y="710" width="41" height="21" fill="#22dd99"/>
<rect x="250" y="710" width="41" height="21" fill="#da3340"/>
<rect x="73" y="716" width="10" height="2" fill="#22dd99"/><rect x="73" y="722" width="10" height="2" fill="#22dd99"/>
<rect x="303" y="716" width="10" height="2" fill="#da3340"/><rect x="303" y="722" width="10" height="2" fill="#da3340"/>
</svg>
</body></html>
